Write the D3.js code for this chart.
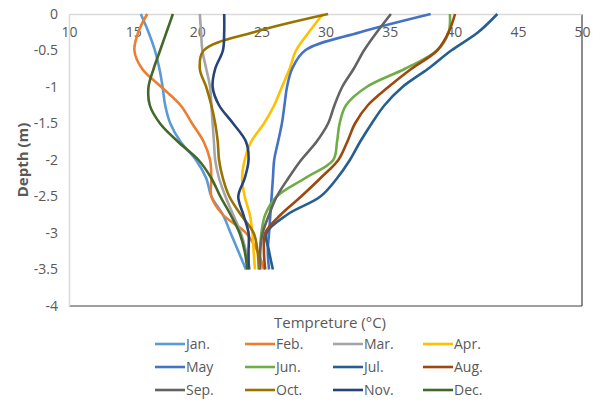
<!DOCTYPE html>
<html>
<head>
<meta charset="utf-8">
<script src="https://cdn.jsdelivr.net/npm/d3@7"></script>
<style>
  body { margin: 0; background: #fff; }
  svg text { font-family: "Open Sans", sans-serif; fill: #595959; }
</style>
</head>
<body>
<div id="chart"></div>
<script>
var W = 597, H = 402;

// depth levels (m)
var depths = [0, -0.25, -0.5, -0.75, -1, -1.25, -1.5, -1.75, -2, -2.25, -2.5, -2.75, -3, -3.25, -3.5];

var months = ["Jan.", "Feb.", "Mar.", "Apr.", "May", "Jun.", "Jul.", "Aug.", "Sep.", "Oct.", "Nov.", "Dec."];
var colors = ["#5b9bd5", "#ed7d31", "#a5a5a5", "#ffc000", "#4472c4", "#70ad47",
              "#255e91", "#9e480e", "#636363", "#997300", "#264478", "#43682b"];

// temperature (°C) at each depth, one array per month
var jan = [15.6, 16.2, 16.7, 17.05, 17.3, 17.5, 17.9, 18.7, 19.9, 20.7, 21.1, 22.0, 22.6, 23.2, 23.8];
var feb = [16.1, 15.4, 15.1, 15.7, 17.2, 18.7, 19.6, 20.5, 21.0, 21.1, 21.1, 22.0, 23.8, 24.7, 25.2];
var mar = [20.2, 20.3, 20.4, 20.7, 21.0, 21.1, 21.2, 21.3, 21.4, 21.7, 22.2, 22.8, 23.4, 23.8, 24.1];
var apr = [29.8, 28.7, 27.7, 27.2, 26.6, 26.0, 25.2, 24.2, 23.7, 23.5, 23.7, 24.1, 24.3, 24.4, 24.5];
var may = [38.2, 32.7, 28.4, 27.4, 27.0, 26.8, 26.6, 26.3, 26.0, 25.9, 25.8, 25.7, 25.6, 25.5, 25.6];
var jun = [39.7, 39.6, 38.7, 36.2, 33.2, 31.6, 31.1, 30.9, 30.6, 28.4, 26.2, 25.3, 25.0, 24.9, 24.9];
var jul = [43.4, 41.9, 39.8, 38.0, 36.0, 34.6, 33.6, 32.7, 31.9, 30.9, 29.6, 27.0, 25.4, 25.6, 25.9];
var aug = [40.1, 39.6, 38.7, 36.7, 34.9, 33.3, 32.3, 31.7, 31.0, 29.6, 28.1, 26.5, 25.3, 25.2, 25.3];
var sep = [35.1, 34.0, 33.0, 32.2, 31.3, 30.7, 30.2, 29.3, 28.1, 27.1, 26.2, 25.6, 25.1, 24.9, 24.9];
var oct = [30.2, 24.4, 20.5, 20.2, 20.7, 21.1, 21.4, 21.6, 21.7, 22.0, 22.5, 23.4, 24.4, 24.7, 24.8];
var nov = [22.1, 22.1, 22.0, 21.4, 21.2, 21.7, 22.8, 23.8, 24.0, 23.7, 23.2, 23.6, 24.0, 24.0, 24.0];
var dec = [18.1, 17.6, 17.1, 16.6, 16.2, 16.3, 17.1, 18.5, 20.1, 21.1, 21.8, 22.6, 23.3, 23.7, 23.9];

var series = [jan, feb, mar, apr, may, jun, jul, aug, sep, oct, nov, dec];

var xTicks = [10, 15, 20, 25, 30, 35, 40, 45, 50];
var yTicks = [0, -0.5, -1, -1.5, -2, -2.5, -3, -3.5, -4];

var pLeft = 69, pRight = 582, pTop = 14, pBottom = 306;

var svg = d3.select("#chart")
    .append("svg")
    .attr("width", W)
    .attr("height", H);

var x = d3.scaleLinear().domain([10, 50]).range([pLeft, pRight]);
var y = d3.scaleLinear().domain([-4, 0]).range([pBottom, pTop]);

// frame on right and bottom
svg.append("line")
    .attr("x1", pRight).attr("x2", pRight)
    .attr("y1", pTop).attr("y2", pBottom)
    .style("stroke", "#404040").style("stroke-width", 1.2);
svg.append("line")
    .attr("x1", pLeft).attr("x2", pRight)
    .attr("y1", pBottom).attr("y2", pBottom)
    .style("stroke", "#404040").style("stroke-width", 1.2);

// x axis at depth 0, labels underneath
var xAxis = svg.append("g")
    .attr("transform", "translate(0," + y(0) + ")")
    .call(d3.axisBottom(x).tickValues(xTicks).tickSize(0).tickPadding(13).tickFormat(d3.format("d")));
xAxis.select(".domain").style("stroke", "#d9d9d9").style("stroke-width", 1.5);
xAxis.selectAll("text").style("font-size", "14px");

var yAxis = svg.append("g")
    .attr("transform", "translate(" + pLeft + ",0)")
    .call(d3.axisLeft(y).tickValues(yTicks).tickSize(0).tickPadding(11).tickFormat(function(d){ return d; }));
yAxis.select(".domain").style("stroke", "#d9d9d9").style("stroke-width", 1.5);
yAxis.selectAll("text").style("font-size", "14px");

var line = d3.line()
    .x(function(d){ return x(d[0]); })
    .y(function(d){ return y(d[1]); })
    .curve(d3.curveCatmullRom.alpha(0.5));

series.forEach(function(s, i){
    var pts = s.map(function(v, j){ return [v, depths[j]]; });
    svg.append("path")
        .datum(pts)
        .attr("d", line)
        .style("fill", "none")
        .style("stroke", colors[i])
        .style("stroke-width", 2.6);
});

// titles
svg.append("text")
    .attr("transform", "translate(28,160) rotate(-90)")
    .attr("text-anchor", "middle")
    .style("font-size", "15px")
    .style("font-weight", "bold")
    .text("Depth (m)");

svg.append("text")
    .attr("x", 330)
    .attr("y", 328)
    .attr("text-anchor", "middle")
    .style("font-size", "15px")
    .text("Tempreture (°C)");

// legend
var legX = [155, 245, 333, 423];
var legY = [344, 367, 390];
months.forEach(function(m, i){
    var cx = legX[i % 4], cy = legY[Math.floor(i / 4)];
    svg.append("line")
        .attr("x1", cx).attr("x2", cx + 30)
        .attr("y1", cy).attr("y2", cy)
        .style("stroke", colors[i])
        .style("stroke-width", 2.6);
    svg.append("text")
        .attr("x", cx + 31)
        .attr("y", cy + 5)
        .style("font-size", "14px")
        .text(m);
});
</script>
</body>
</html>
